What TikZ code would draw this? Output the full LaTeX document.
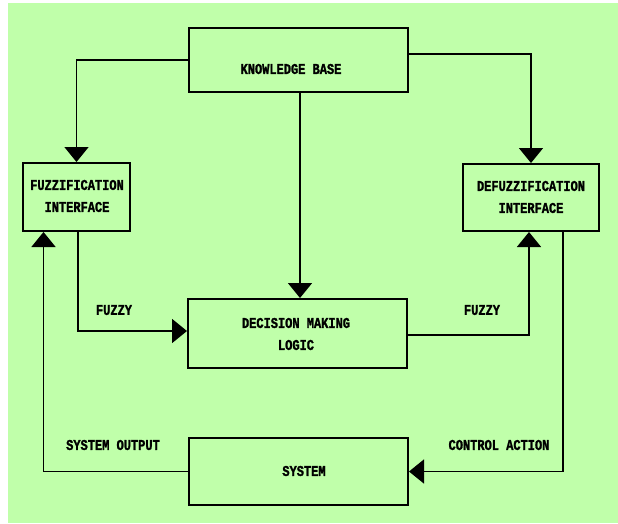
\documentclass[tikz,border=0pt]{standalone}
\usepackage{fontspec}
\usepackage{tikz}
\usetikzlibrary{arrows.meta}
\usetikzlibrary{calc}
\newfontfamily\blockfont[FakeStretch=0.8,FakeBold=1.5]{Liberation Mono}
\definecolor{bggreen}{RGB}{192,255,170}

\begin{document}
\begin{tikzpicture} [x=1pt,y=-1pt,
    block/.style={draw,line width=2pt,inner sep=0pt},
    lbl/.style={font=\blockfont\bfseries\fontsize{15}{22}\selectfont,align=center},
    arr/.style={line width=1.6pt,-{Triangle[width=24pt,length=15pt]}}]
  \useasboundingbox (0,0) rectangle (618,523);
  \fill[bggreen] (8,3) rectangle (618,523); % background

  %draw blocks
  \node[block,minimum width=219pt,minimum height=64pt] (kb) at (298.5,60) {};
  \node[block,minimum width=107pt,minimum height=68pt] (fuzz) at (76.5,197) {};
  \node[block,minimum width=136pt,minimum height=67pt] (defuzz) at (531,197.5) {};
  \node[block,minimum width=219pt,minimum height=69pt] (dec) at (297.5,333.5) {};
  \node[block,minimum width=219pt,minimum height=67pt] (sys) at (298.5,471.5) {};

  %draw connectors
  \draw[arr] (kb.west) -| (fuzz.north);
  \draw[arr] ([yshift=6]kb.east) -| (defuzz.north);
  \draw[arr] ([xshift=1.5]kb.south) -- ([xshift=1.5]kb.south |- dec.north);
  \draw[arr] ([xshift=1.5]fuzz.south) |- ([yshift=2.5]dec.west);
  \draw[arr] ([yshift=-1.5]dec.east) -| ([xshift=-2]defuzz.south);
  \draw[arr] ([xshift=32]defuzz.south) |- (sys.east);
  \draw[arr] (sys.west) -| ([xshift=-33]fuzz.south);

  %draw labels
  \node[lbl] at (291,69) {KNOWLEDGE BASE};
  \node[lbl] at (77,196) {FUZZIFICATION\\INTERFACE};
  \node[lbl] at (531,197) {DEFUZZIFICATION\\INTERFACE};
  \node[lbl] at (296,334) {DECISION MAKING\\LOGIC};
  \node[lbl] at (304,471) {SYSTEM};
  \node[lbl] at (114,310) {FUZZY};
  \node[lbl] at (482,310) {FUZZY};
  \node[lbl] at (113,445) {SYSTEM OUTPUT};
  \node[lbl] at (499,445) {CONTROL ACTION};
\end{tikzpicture}
\end{document}
